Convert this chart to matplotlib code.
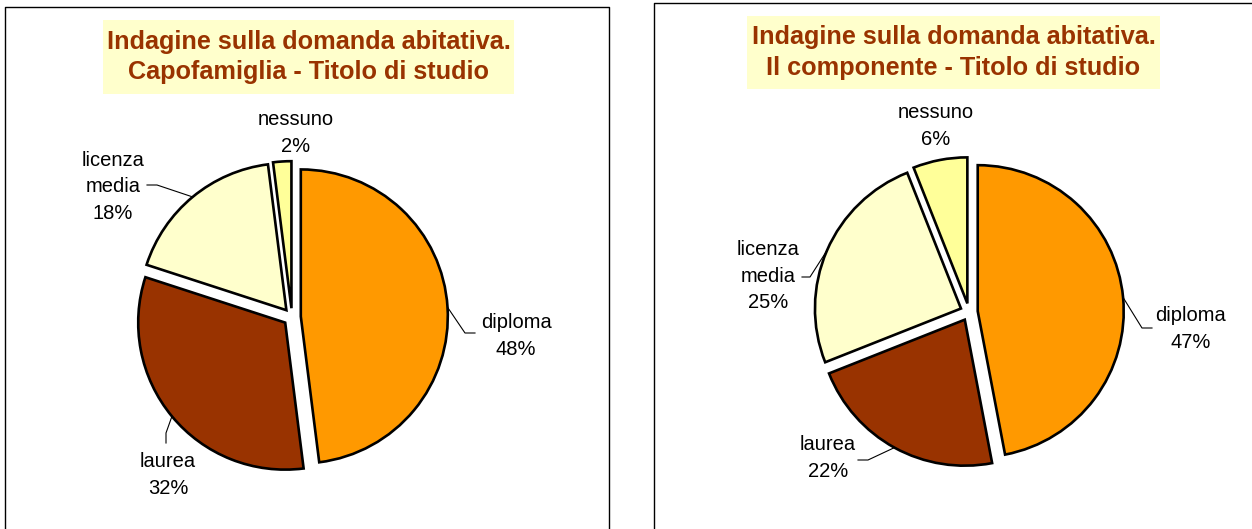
import math

import matplotlib
matplotlib.use("Agg")
import matplotlib.pyplot as plt
from matplotlib.patches import Rectangle

W, H = 1252, 529

# data
categories = ["diploma", "laurea", "licenza\nmedia", "nessuno"]
capofamiglia = [48, 32, 18, 2]
componente = [47, 22, 25, 6]
slice_colors = ["#FF9900", "#993300", "#FFFFCC", "#FFFF99"]

titles = [
    "Indagine sulla domanda abitativa.\nCapofamiglia - Titolo di studio",
    "Indagine sulla domanda abitativa.\nIl componente - Titolo di studio",
]

TITLE_COL = "#993300"
BOX_COL = "#FFFFCC"


def Y(y):
    # image row -> data y
    return H - y


def draw_panel(ax, values, title, frame, tbox, center, radius, labels):
    x0, y0, x1 = frame
    ax.plot([x0, x0, x1, x1], [Y(H + 5), Y(y0), Y(y0), Y(H + 5)], color="black", lw=1.0)

    bx0, by0, bx1, by1 = tbox
    ax.add_patch(Rectangle((bx0, Y(by1)), bx1 - bx0, by1 - by0, facecolor=BOX_COL, edgecolor="none"))
    ax.text((bx0 + bx1) / 2, Y((by0 + by1) / 2), title, ha="center", va="center",
            fontsize=18.2, fontweight="bold", color=TITLE_COL, linespacing=1.35)

    # explode is in data units here (1 unit = 1 px)
    wedges, _ = ax.pie(values, colors=slice_colors, startangle=90, counterclock=False,
                       center=(center[0], Y(center[1])), radius=radius,
                       explode=[0.06 * radius] * len(values),
                       wedgeprops=dict(edgecolor="black", linewidth=1.9))

    total = sum(values)
    for i, (cat, val) in enumerate(zip(categories, values)):
        (tx, ty), leader = labels[i]
        ax.text(tx, Y(ty), f"{cat}\n{round(100 * val / total)}%", ha="center", va="center",
                fontsize=14.5, color="black", linespacing=1.5)
        if leader is None:
            continue
        # leader: label end -> elbow -> slice arc at mid-angle
        (ex, ey), (kx, ky) = leader
        w = wedges[i]
        cx, cy = w.center
        ang = math.radians((w.theta1 + w.theta2) / 2)
        px, py = cx + w.r * math.cos(ang), cy + w.r * math.sin(ang)
        ax.plot([ex, kx, px], [Y(ey), Y(ky), py], color="black", lw=0.8)


def main():
    plt.rcParams["font.family"] = ["Liberation Sans", "DejaVu Sans"]
    fig = plt.figure(figsize=(W / 100, H / 100), dpi=100)
    ax = fig.add_axes([0, 0, 1, 1])

    draw_panel(ax, capofamiglia, titles[0], (5, 7, 609), (103, 20, 514, 94), (292, 317), 147,
               [((516, 336), ((475, 333), (465, 333))),
                ((168, 475), ((166, 443), (166, 433))),
                ((113, 187), ((147, 185), (157, 185))),
                ((296, 133), None)])
    draw_panel(ax, componente, titles[1], (654, 3, W + 5), (747, 16, 1160, 89), (969, 312), 146,
               [((1191, 329), ((1152, 328), (1142, 328))),
                ((828, 458), ((858, 460), (868, 460))),
                ((768, 276), ((802, 277), (810, 277))),
                ((936, 126), None)])

    ax.set_xlim(0, W)
    ax.set_ylim(0, H)
    ax.set_aspect("auto")
    ax.axis("off")
    fig.savefig("out.png", dpi=100, facecolor="white")


if __name__ == "__main__":
    main()
